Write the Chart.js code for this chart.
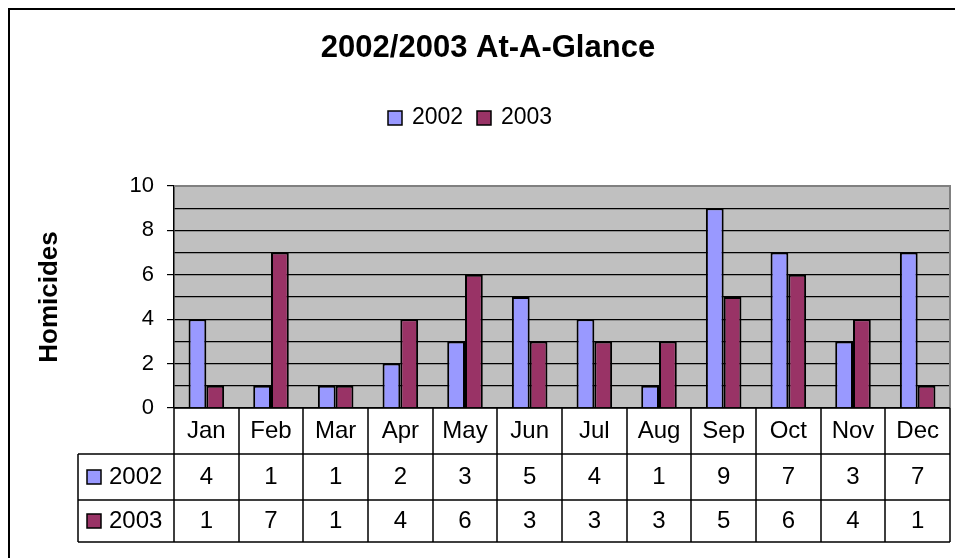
<!DOCTYPE html>
<html>
<head>
<meta charset="utf-8">
<script src="https://cdn.jsdelivr.net/npm/chart.js@4.4.0/dist/chart.umd.min.js"></script>
<style>
  body { margin: 0; background: #fff; }
  #wrap { width: 955px; height: 558px; }
</style>
</head>
<body>
<div id="wrap"><canvas id="glance" width="955" height="558"></canvas></div>
<script>
// values
const months = ['Jan', 'Feb', 'Mar', 'Apr', 'May', 'Jun', 'Jul', 'Aug', 'Sep', 'Oct', 'Nov', 'Dec'];
const homicides2002 = [4, 1, 1, 2, 3, 5, 4, 1, 9, 7, 3, 7];
const homicides2003 = [1, 7, 1, 4, 6, 3, 3, 3, 5, 6, 4, 1];
const seriesNames = ['2002', '2003'];
const seriesColors = ['#9999FF', '#993366'];
const yLabels = [0, 2, 4, 6, 8, 10];
const chartTitle = '2002/2003 At-A-Glance';
const yTitle = 'Homicides';

const FONT = "Arial, 'Liberation Sans', sans-serif";

// grey plot area + outer frame, title and legend
const frame = {
    id: 'frame',
    beforeDraw(chart) {
        const ctx = chart.ctx, a = chart.chartArea;
        ctx.save();
        ctx.fillStyle = '#fff';
        ctx.fillRect(0, 0, chart.width, chart.height);
        ctx.fillStyle = '#C0C0C0';
        ctx.fillRect(a.left, a.top, a.right - a.left, a.bottom - a.top);
        ctx.restore();
    },
    afterDraw(chart) {
        const ctx = chart.ctx, a = chart.chartArea;
        ctx.save();
        // outer chart border (runs off the right/bottom edge)
        ctx.strokeStyle = '#000';
        ctx.lineWidth = 2;
        ctx.strokeRect(9, 9, chart.width + 20, chart.height + 20);

        // plot area top/right border
        ctx.strokeStyle = '#808080';
        ctx.lineWidth = 2;
        ctx.beginPath();
        ctx.moveTo(a.left, a.top);
        ctx.lineTo(a.right, a.top);
        ctx.lineTo(a.right, a.bottom);
        ctx.stroke();

        // title
        ctx.fillStyle = '#000';
        ctx.font = 'bold 31px ' + FONT;
        ctx.textAlign = 'center';
        ctx.textBaseline = 'middle';
        ctx.fillText(chartTitle, 488, 48);

        // legend
        ctx.font = '23px ' + FONT;
        ctx.textAlign = 'left';
        const items = chart.data.datasets;
        let lx = 388;
        items.forEach((ds, i) => {
            ctx.fillStyle = ds.backgroundColor;
            ctx.fillRect(lx, 111, 14, 14);
            ctx.strokeStyle = '#000';
            ctx.lineWidth = 1.5;
            ctx.strokeRect(lx, 111, 14, 14);
            ctx.fillStyle = '#000';
            ctx.fillText(ds.label, lx + 24, 118);
            lx += 89;
        });
        ctx.restore();
    }
};

// data table under the plot
const dataTable = {
    id: 'dataTable',
    afterDraw(chart) {
        const ctx = chart.ctx, a = chart.chartArea, xs = chart.scales.x;
        const colW = (a.right - a.left) / months.length;
        const y0 = a.bottom, y1 = y0 + 46, y2 = y1 + 46, y3 = y2 + 42;
        const tableLeft = 78;
        ctx.save();
        ctx.strokeStyle = '#000';
        ctx.lineWidth = 1.5;
        ctx.beginPath();
        // horizontal lines
        ctx.moveTo(a.left, y0); ctx.lineTo(a.right, y0);
        [y1, y2, y3].forEach(y => { ctx.moveTo(tableLeft, y); ctx.lineTo(a.right, y); });
        // vertical lines
        for (let i = 0; i <= months.length; i++) {
            const x = Math.round(a.left + i * colW);
            ctx.moveTo(x, y0); ctx.lineTo(x, y3);
        }
        ctx.moveTo(tableLeft, y1); ctx.lineTo(tableLeft, y3);
        ctx.stroke();

        ctx.fillStyle = '#000';
        ctx.font = '24px ' + FONT;
        ctx.textAlign = 'center';
        ctx.textBaseline = 'middle';
        months.forEach((m, i) => {
            const cx = xs.getPixelForValue(i);
            ctx.fillText(m, cx, (y0 + y1) / 2);
        });
        const rows = [[y1, y2], [y2, y3]];
        chart.data.datasets.forEach((ds, r) => {
            const cy = (rows[r][0] + rows[r][1]) / 2;
            ds.data.forEach((v, i) => {
                ctx.fillText(String(v), xs.getPixelForValue(i), cy);
            });
            // row header with legend key
            ctx.fillStyle = ds.backgroundColor;
            ctx.fillRect(87, cy - 7, 14, 14);
            ctx.strokeStyle = '#000';
            ctx.lineWidth = 1.5;
            ctx.strokeRect(87, cy - 7, 14, 14);
            ctx.fillStyle = '#000';
            ctx.textAlign = 'left';
            ctx.fillText(ds.label, 109, cy);
            ctx.textAlign = 'center';
        });
        ctx.restore();
    }
};

const ctx = document.getElementById('glance').getContext('2d');
const chart = new Chart(ctx, {
    type: 'bar',
    data: {
        labels: months,
        datasets: [
            {
                label: seriesNames[0],
                data: homicides2002,
                backgroundColor: seriesColors[0],
                borderColor: '#000',
                borderWidth: 2
            },
            {
                label: seriesNames[1],
                data: homicides2003,
                backgroundColor: seriesColors[1],
                borderColor: '#000',
                borderWidth: 2
            }
        ]
    },
    options: {
        responsive: false,
        animation: false,
        devicePixelRatio: 1,
        layout: { padding: { left: 0, top: 186, right: 5, bottom: 150 } },
        datasets: {
            bar: { categoryPercentage: 0.55, barPercentage: 1 }
        },
        plugins: {
            legend: { display: false },
            title: { display: false },
            tooltip: { enabled: false }
        },
        scales: {
            x: { display: false },
            y: {
                min: 0,
                max: 10,
                afterFit(scale) { scale.width = 174; },
                border: { display: true, color: '#000', width: 1.5 },
                grid: {
                    color: c => c.tick && c.tick.value === 10 ? 'transparent' : '#000',
                    lineWidth: 1.2,
                    tickLength: 7,
                    tickColor: c => yLabels.includes(c.tick.value) ? '#000' : 'transparent'
                },
                ticks: {
                    stepSize: 1,
                    autoSkip: false,
                    padding: 13,
                    color: '#000',
                    font: { family: FONT, size: 22 },
                    callback: v => yLabels.includes(v) ? String(v) : ''
                },
                title: {
                    display: true,
                    text: yTitle,
                    color: '#000',
                    font: { family: FONT, size: 26, weight: 'bold' },
                    padding: { top: 34, bottom: 0 }
                }
            }
        }
    },
    plugins: [frame, dataTable]
});
</script>
</body>
</html>
